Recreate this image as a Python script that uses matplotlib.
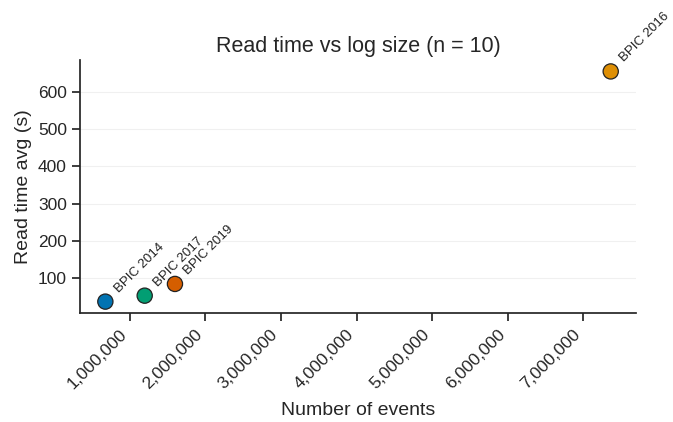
import matplotlib
matplotlib.use("Agg")
import matplotlib.pyplot as plt
import seaborn as sns
from matplotlib.ticker import FuncFormatter

sns.set_theme(style="ticks")
plt.rcParams['font.family'] = ['Liberation Sans', 'DejaVu Sans']

logs = ["BPIC 2014", "BPIC 2017", "BPIC 2019", "BPIC 2016"]
events = [680000, 1200000, 1600000, 7360000]
read_time = [36.5, 52.5, 84, 655]
colors = ["#0173b2", "#029e73", "#d55e00", "#de8f05"]

fig = plt.figure(figsize=(6.73, 4.22), dpi=100)
ax = fig.add_axes([0.119, 0.258, 0.826, 0.600])
ax.grid(axis='y', color='#f0f0f0', linewidth=0.8)
ax.set_axisbelow(True)
ax.scatter(events, read_time, c=colors, s=120, edgecolors='#222222', linewidths=0.9, zorder=3)
for x, y, lab in zip(events, read_time, logs):
    ax.annotate(lab, (x, y), xytext=(5, 5), textcoords='offset points',
                rotation=45, ha='left', va='bottom', fontsize=9.5, color='#222222')
ax.set_xticks([1e6, 2e6, 3e6, 4e6, 5e6, 6e6, 7e6])
ax.xaxis.set_major_formatter(FuncFormatter(lambda v, p: f"{int(v):,}"))
plt.setp(ax.get_xticklabels(), rotation=45, ha='right', fontsize=12.5)
ax.set_yticks([100, 200, 300, 400, 500, 600])
plt.setp(ax.get_yticklabels(), fontsize=12.5)
ax.set_xlabel("Number of events", fontsize=14, labelpad=8)
ax.set_ylabel("Read time avg (s)", fontsize=14)
ax.set_title("Read time vs log size (n = 10)", fontsize=15.5)
sns.despine(ax=ax)
fig.savefig("out.png", dpi=100)
